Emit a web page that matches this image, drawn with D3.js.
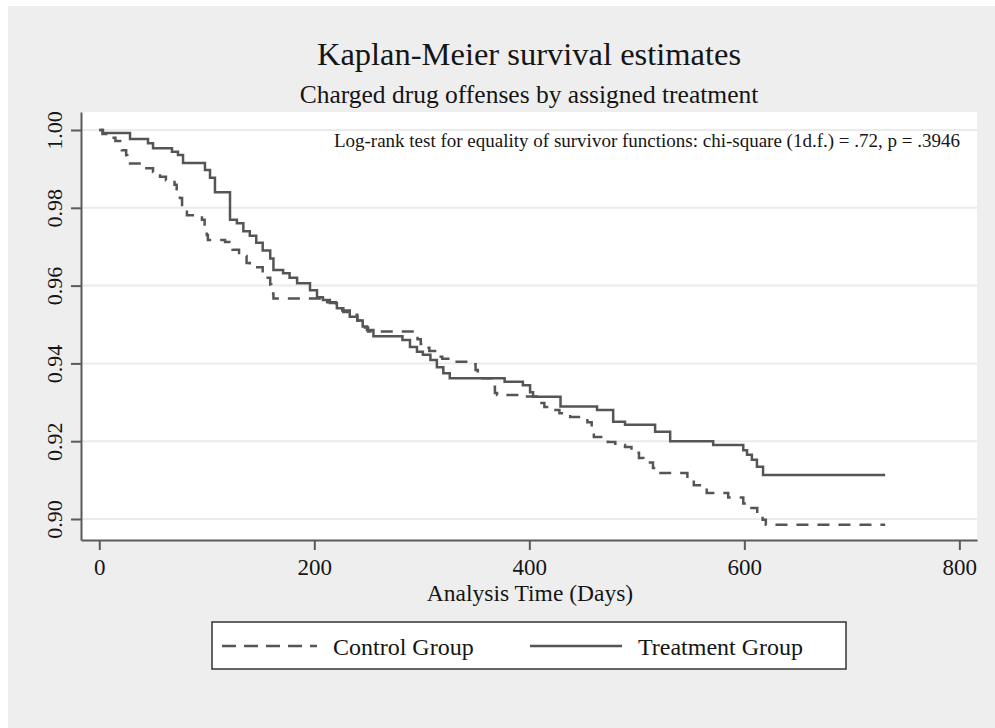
<!DOCTYPE html>
<meta charset="utf-8">
<style>
    body { margin: 0; background: #fff; }
    text { font-family: "Liberation Serif", "Times New Roman", serif; fill: #151515; }
    .grid line { stroke: #ebebeb; stroke-width: 2; }
    .axis path, .axis line { stroke: #5a5a5a; stroke-width: 2; }
    .km { fill: none; stroke: #555; stroke-width: 2.5; }
</style>

<body>
    <script src="https://cdn.jsdelivr.net/npm/d3@7"></script>

    <svg width="995" height="728"></svg>
    <script>
        // tick values
        var xTicks = [0, 200, 400, 600, 800];
        var yTicks = [0.90, 0.92, 0.94, 0.96, 0.98, 1.00];

        // Control group (dashed) - step points
        var controlTime = [0, 3, 8, 15, 21, 25, 26, 42.5, 50, 54, 56.5, 62, 70, 72, 75, 77, 81.5, 95.5, 98, 100,
            101, 117, 121, 124, 130, 137, 140, 152, 154, 159, 160, 162, 212, 220, 226, 233, 240, 245, 250, 293,
            296, 299, 302, 307, 314, 319, 328, 347, 350, 352, 354, 366, 368, 370, 396, 408, 414, 420, 428, 438,
            454, 458, 460, 473, 480, 489, 495, 502, 506, 515, 518, 547, 553, 565, 585, 599, 605, 612, 617, 620, 731];
        var controlSurv = [1.000, 0.999, 0.998, 0.9972, 0.9948, 0.9935, 0.9914, 0.9902, 0.9892, 0.989, 0.988, 0.9871,
            0.9859, 0.9834, 0.9825, 0.980, 0.9781, 0.9769, 0.9743, 0.973,
            0.9717, 0.9712, 0.9699, 0.9692, 0.9676, 0.9658, 0.9647, 0.9632, 0.962, 0.9603, 0.958, 0.9567, 0.9557,
            0.9548, 0.9536, 0.9525, 0.951, 0.9492, 0.9482, 0.9475,
            0.9462, 0.945, 0.944, 0.9432, 0.9417, 0.9412, 0.9404, 0.9398, 0.9383, 0.938, 0.9362, 0.934, 0.9324,
            0.9319, 0.9315, 0.9298, 0.9288, 0.928, 0.9272, 0.9262,
            0.9249, 0.9229, 0.9211, 0.9198, 0.919, 0.9185, 0.917, 0.9157, 0.9145, 0.9131, 0.9118, 0.9105, 0.9087,
            0.9067, 0.9055, 0.904, 0.9028, 0.9015, 0.8998, 0.8985, 0.8985];

        // Treatment group (solid)
        var treatTime = [0, 3.4, 28.6, 45.3, 50, 67.6, 73.2, 77.9, 98.3, 103, 107.6, 121.6, 128, 134, 140, 146, 152,
            159, 162, 171, 177, 184, 196, 202.5, 208, 214.5, 221, 227, 233, 240, 245, 249, 255, 282, 289, 295.5,
            301, 308, 314, 320, 326, 377, 394, 400.7, 403.5, 429, 463, 478, 489, 517, 531, 571, 599, 602.5, 607,
            611.7, 617.4, 731];
        var treatSurv = [1.000, 0.9992, 0.9977, 0.9966, 0.9953, 0.9944, 0.9936, 0.9915, 0.9897, 0.9877, 0.984,
            0.9769, 0.976, 0.974, 0.9728, 0.971, 0.969,
            0.967, 0.964, 0.9632, 0.962, 0.9606, 0.9588, 0.957, 0.9563, 0.9555, 0.9542, 0.9532, 0.952, 0.951,
            0.9495, 0.9486, 0.947, 0.946, 0.9442, 0.943,
            0.9422, 0.9409, 0.939, 0.9375, 0.9362, 0.9353, 0.9344, 0.9326, 0.9314, 0.9289, 0.928, 0.925, 0.9242,
            0.9224, 0.920, 0.919, 0.9177, 0.9165, 0.9152,
            0.9134, 0.9113, 0.9113];

        var legendLabels = ["Control Group", "Treatment Group"];

        var svg = d3.select("svg");

        // plot region
        var plotLeft = 81, plotRight = 977, plotTop = 112, plotBottom = 540;

        var xScale = d3.scaleLinear().domain([-17, 816.4]).range([plotLeft, plotRight]);
        var yScale = d3.scaleLinear().domain([0.8946, 1.00463]).range([plotBottom, plotTop]);

        // gray graph background
        svg.append("rect")
            .attr("x", 8).attr("y", 6)
            .attr("width", 987).attr("height", 722)
            .attr("fill", "#eeeeee");

        svg.append("rect")
            .attr("x", plotLeft).attr("y", plotTop)
            .attr("width", plotRight - plotLeft).attr("height", plotBottom - plotTop)
            .attr("fill", "#fff");

        // gridlines
        svg.append("g")
            .attr("class", "grid")
            .selectAll("line")
            .data(yTicks)
            .enter().append("line")
            .attr("x1", plotLeft)
            .attr("x2", plotRight)
            .attr("y1", function(d) { return yScale(d); })
            .attr("y2", function(d) { return yScale(d); });

        // axes
        var xAxis = svg.append("g")
            .attr("class", "axis")
            .attr("transform", "translate(0," + plotBottom + ")")
            .call(d3.axisBottom(xScale).tickValues(xTicks).tickSize(10).tickSizeOuter(0).tickPadding(9));
        xAxis.selectAll("text")
            .style("font-size", "23px")
            .style("font-family", "Liberation Serif, serif")
            .attr("fill", "#151515");

        var yAxis = svg.append("g")
            .attr("class", "axis")
            .attr("transform", "translate(" + plotLeft + ",0)")
            .call(d3.axisLeft(yScale).tickValues(yTicks).tickSize(10).tickSizeOuter(0)
                .tickFormat(d3.format(".2f")));
        yAxis.selectAll("text")
            .attr("x", 0).attr("dy", 0)
            .attr("transform", "translate(-19,0) rotate(-90)")
            .attr("text-anchor", "middle")
            .style("font-size", "22px")
            .style("font-family", "Liberation Serif, serif")
            .attr("fill", "#151515");

        // survival curves
        var line = d3.line()
            .x(function(d) { return xScale(d[0]); })
            .y(function(d) { return yScale(d[1]); })
            .curve(d3.curveStepAfter);

        svg.append("path")
            .datum(controlTime.map(function(t, i) { return [t, controlSurv[i]]; }))
            .attr("class", "km")
            .attr("stroke-dasharray", "12,9")
            .attr("d", line);

        svg.append("path")
            .datum(treatTime.map(function(t, i) { return [t, treatSurv[i]]; }))
            .attr("class", "km")
            .attr("d", line);

        // titles
        svg.append("text")
            .attr("x", 529).attr("y", 65)
            .attr("text-anchor", "middle")
            .style("font-size", "32.5px")
            .text("Kaplan-Meier survival estimates");

        svg.append("text")
            .attr("x", 529).attr("y", 103)
            .attr("text-anchor", "middle")
            .style("font-size", "25.5px")
            .text("Charged drug offenses by assigned treatment");

        svg.append("text")
            .attr("x", 960).attr("y", 147)
            .attr("text-anchor", "end")
            .style("font-size", "19px")
            .text("Log-rank test for equality of survivor functions: chi-square (1d.f.) = .72, p = .3946");

        svg.append("text")
            .attr("x", 530).attr("y", 601)
            .attr("text-anchor", "middle")
            .style("font-size", "23.5px")
            .text("Analysis Time (Days)");

        // legend
        svg.append("rect")
            .attr("x", 212).attr("y", 622)
            .attr("width", 634).attr("height", 47)
            .attr("fill", "#fff")
            .attr("stroke", "#333")
            .attr("stroke-width", 1.5);

        var legendX = [222, 530];
        legendLabels.forEach(function(label, i) {
            svg.append("line")
                .attr("x1", legendX[i]).attr("x2", legendX[i] + (i == 0 ? 95 : 92))
                .attr("y1", 646).attr("y2", 646)
                .attr("class", "km")
                .attr("stroke-dasharray", i == 0 ? "14,8" : null);
            svg.append("text")
                .attr("x", legendX[i] + (i == 0 ? 111 : 108))
                .attr("y", 655)
                .style("font-size", "24px")
                .text(label);
        });
    </script>
</body>
